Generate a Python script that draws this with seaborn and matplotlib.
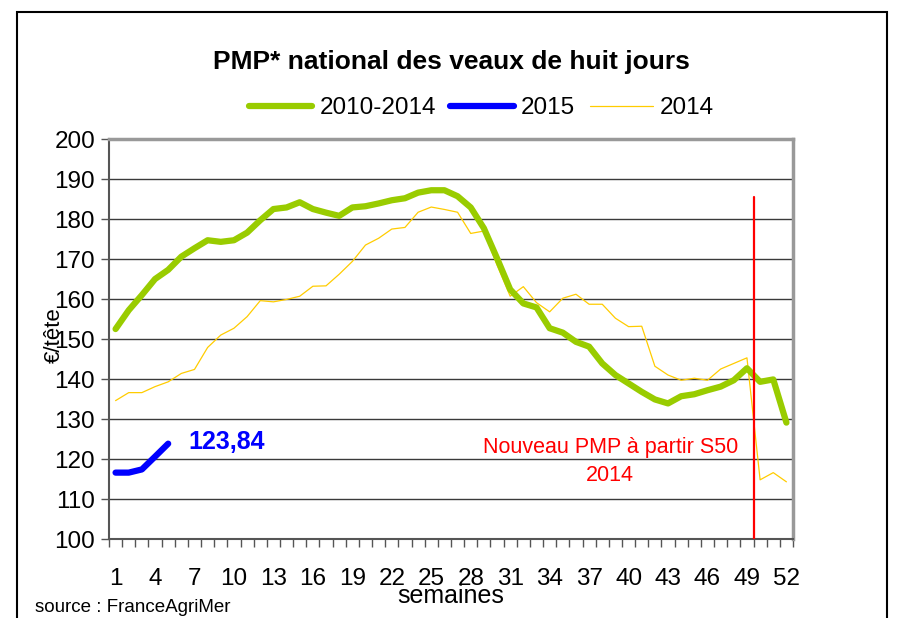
import numpy as np
import matplotlib
matplotlib.use("Agg")
import matplotlib.pyplot as plt
import seaborn as sns
from matplotlib.patches import Rectangle
from matplotlib.ticker import FixedLocator

# Data
weeks = list(range(1, 53))

avg_2010_2014 = [152.5, 157.2, 161.0, 165.0, 167.3, 170.6, 172.7, 174.7, 174.3, 174.7,
                 176.6, 179.7, 182.5, 182.9, 184.2, 182.5, 181.6, 180.8, 182.9, 183.2,
                 183.9, 184.7, 185.2, 186.6, 187.2, 187.2, 185.7, 182.9, 177.7, 170.2,
                 162.4, 158.9, 157.9, 152.7, 151.6, 149.3, 148.1, 143.9, 141.0, 138.9,
                 136.8, 134.9, 133.9, 135.7, 136.2, 137.2, 138.1, 139.7, 142.7, 139.3,
                 139.9, 129.1]

year_2014 = [134.6, 136.6, 136.6, 138.1, 139.3, 141.4, 142.4, 147.9, 151.0, 152.7,
             155.6, 159.6, 159.3, 159.9, 160.7, 163.2, 163.3, 166.2, 169.4, 173.5,
             175.2, 177.5, 177.9, 181.7, 183.0, 182.4, 181.7, 176.4, 177.0, 168.5,
             160.7, 163.1, 159.1, 156.8, 160.2, 161.2, 158.7, 158.7, 155.2, 153.1,
             153.2, 143.2, 141.0, 139.7, 140.2, 139.7, 142.5, 143.9, 145.3, 114.8,
             116.6, 114.3]

weeks_2015 = [1, 2, 3, 4, 5]
year_2015 = [116.6, 116.6, 117.4, 120.6, 123.84]

last_2015_label = "123,84"
series_labels = ["2010-2014", "2015", "2014"]
y_ticks = list(range(100, 201, 10))
x_tick_labels = list(range(1, 53, 3))
s50_boundary = 49.5
s50_line_top = 185.5

GREEN = "#99CC00"
BLUE = "#0000FF"
YELLOW = "#FFCC00"
RED = "#FF0000"

sns.set_style("white")
plt.rcParams["font.family"] = ["Liberation Sans", "DejaVu Sans"]
plt.rcParams["text.color"] = "black"
plt.rcParams["axes.labelcolor"] = "black"
plt.rcParams["xtick.color"] = "black"
plt.rcParams["ytick.color"] = "black"

fig = plt.figure(figsize=(9, 6.18), dpi=100)
ax = fig.add_axes([0.1211, 0.1278, 0.76, 0.6472])

# gridlines behind the data
for v in y_ticks[:-1]:
    ax.axhline(v, color="#3a3a3a", lw=1.0, zorder=0)

sns.lineplot(x=weeks, y=year_2014, ax=ax, color=YELLOW, linewidth=0.9,
             label=series_labels[2], zorder=2)
sns.lineplot(x=weeks, y=avg_2010_2014, ax=ax, color=GREEN, linewidth=4.5,
             label=series_labels[0], zorder=3, solid_capstyle="round",
             solid_joinstyle="round")
sns.lineplot(x=weeks_2015, y=year_2015, ax=ax, color=BLUE, linewidth=4.5,
             label=series_labels[1], zorder=4, solid_capstyle="round",
             solid_joinstyle="round")

ax.axvline(s50_boundary, ymin=0, ymax=(s50_line_top - 100) / 100,
           color=RED, lw=1.6, zorder=5)

ax.set_xlim(0.5, 52.5)
ax.set_ylim(100, 200)
ax.set_yticks(y_ticks)
ax.set_xticks(x_tick_labels)
ax.set_xticklabels([str(w) for w in x_tick_labels])
ax.xaxis.set_minor_locator(FixedLocator(np.arange(0.5, 53, 1)))
ax.tick_params(axis="x", which="major", length=0, pad=21, labelsize=17.5)
ax.tick_params(axis="x", which="minor", length=6, width=1, color="#555555",
               direction="out", bottom=True)
ax.tick_params(axis="y", which="major", length=6, width=1, color="#555555",
               direction="out", left=True, labelsize=17.5, pad=4)

for side in ["left", "bottom"]:
    ax.spines[side].set_color("#555555")
    ax.spines[side].set_linewidth(1.5)
for side in ["top", "right"]:
    ax.spines[side].set_color("#999999")
    ax.spines[side].set_linewidth(2.5)

ax.set_xlabel("semaines", fontsize=18)
ax.xaxis.set_label_coords(0.5, -0.113)
ax.set_ylabel("€/tête", fontsize=16)
ax.yaxis.set_label_coords(-0.064, 0.51)

ax.text(6.5, 124.2, last_2015_label, color=BLUE, fontsize=18,
        fontweight="bold", ha="left", va="center")
ax.text(38.6, 119.3, "Nouveau PMP à partir S50\n2014", color=RED, fontsize=15.5,
        ha="center", va="center", multialignment="center", linespacing=1.45)

ax.get_legend().remove()
handles, labels = ax.get_legend_handles_labels()
order = [labels.index(s) for s in series_labels]
fig.legend([handles[i] for i in order], [labels[i] for i in order],
           loc="center", bbox_to_anchor=(0.535, 0.825), ncol=3, frameon=False,
           fontsize=17.5, handlelength=2.6, handletextpad=0.3, columnspacing=0.6)

fig.text(0.502, 0.9, "PMP* national des veaux de huit jours", ha="center",
         va="center", fontsize=19, fontweight="bold")
fig.text(0.039, 0.017, "source : FranceAgriMer", fontsize=13.5, ha="left",
         va="center")

fig.patches.append(Rectangle((0.019, -0.05), 0.967, 1.0306, transform=fig.transFigure,
                             fill=False, edgecolor="black", lw=1.5))

fig.savefig("out.png", dpi=100)
